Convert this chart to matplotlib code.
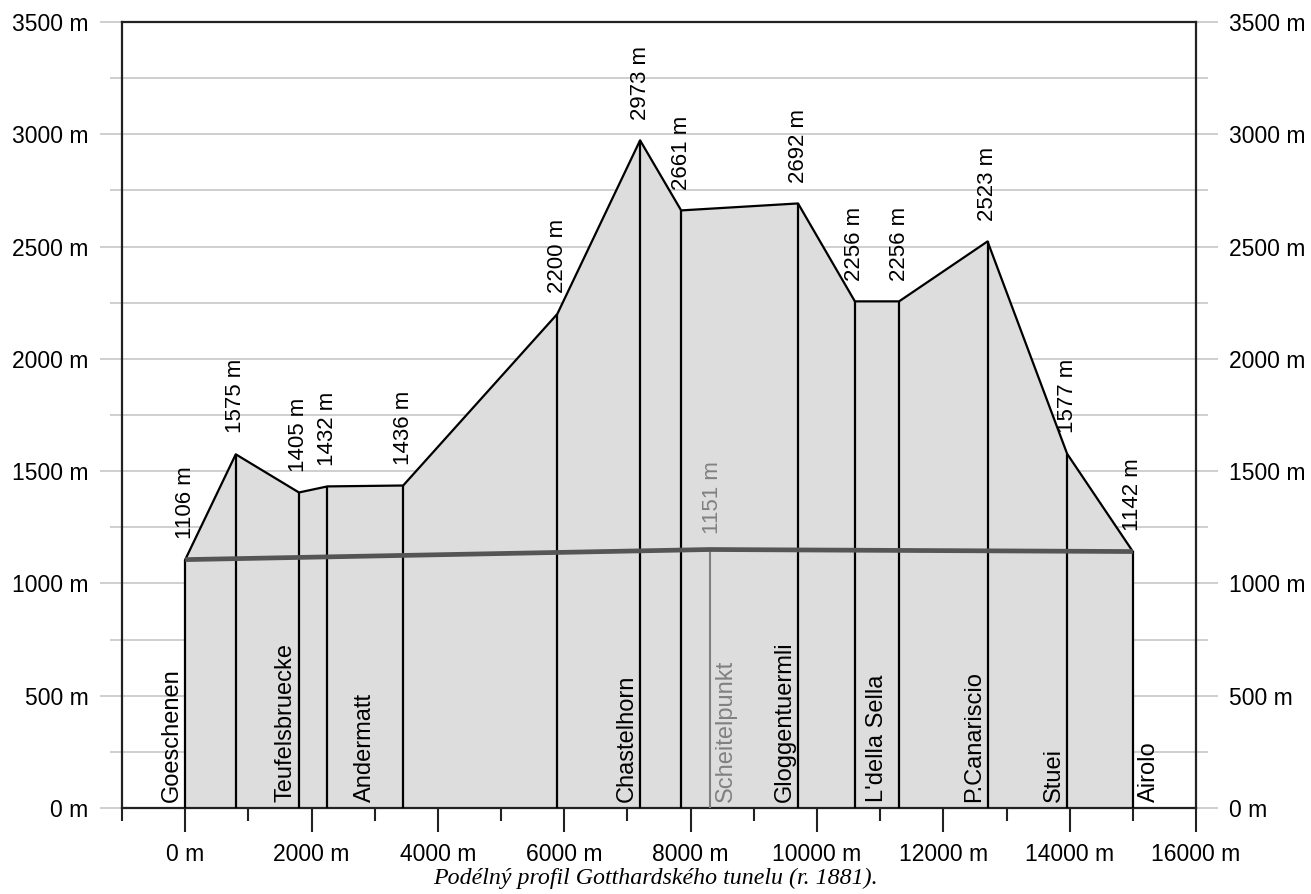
import numpy as np
import matplotlib.pyplot as plt
from matplotlib.ticker import MultipleLocator, FuncFormatter

plt.rcParams['font.family'] = ['Liberation Sans', 'DejaVu Sans']

# surface profile: distance from Goeschenen portal (m), elevation (m)
dist = [0, 800, 1800, 2250, 3450, 5890, 7200, 7850, 9700, 10600, 11300, 12700, 13960, 15000]
elev = [1106, 1575, 1405, 1432, 1436, 2200, 2973, 2661, 2692, 2256, 2256, 2523, 1577, 1142]

# tunnel axis
tunnel_x = [0, 8300, 15000]
tunnel_y = [1106, 1151, 1142]
apex_x = 8300
apex_y = 1151

# place names: (name, anchor distance, side of the vertical line)
names = ['Goeschenen', 'Teufelsbruecke', 'Andermatt', 'Chastelhorn', 'Scheitelpunkt',
         'Gloggentuermli', "L'della Sella", 'P.Canariscio', 'Stuei', 'Airolo']
name_x = [0, 1800, 2850, 7200, 8300, 9700, 10950, 12700, 13960, 15000]
name_side = ['left', 'left', 'mid', 'left', 'right', 'left', 'mid', 'left', 'left', 'right']

caption = 'Podélný profil Gotthardského tunelu (r. 1881).'

fig = plt.figure(figsize=(13.11, 8.94), dpi=100)
ax = fig.add_axes([0.0931, 0.0962, 0.8192, 0.8792])
ax.set_xlim(-1000, 16000)
ax.set_ylim(0, 3500)

# ground profile
ax.fill_between(dist, elev, 0, color='#dddddd', lw=0, zorder=2)
ax.plot(dist, elev, color='black', lw=1.6, zorder=4)
ax.vlines(dist, 0, elev, color='black', lw=1.6, zorder=3)

# tunnel
ax.vlines(apex_x, 0, apex_y, color='#808080', lw=1.5, zorder=3)
ax.plot(tunnel_x, tunnel_y, color='#555555', lw=3.4, zorder=5, solid_capstyle='butt')

fs = 16
fs_name = 17
for x, y in zip(dist, elev):
    ax.annotate(f'{y} m', (x, y), xytext=(0, 15), textcoords='offset points',
                rotation=90, ha='center', va='bottom', fontsize=fs, zorder=6)
ax.annotate(f'{apex_y} m', (apex_x, apex_y), xytext=(2, 11), textcoords='offset points',
            rotation=90, ha='center', va='bottom', fontsize=fs, color='#808080', zorder=6)

for name, x, side in zip(names, name_x, name_side):
    col = '#808080' if name == 'Scheitelpunkt' else 'black'
    if side == 'left':
        ax.annotate(name, (x, 0), xytext=(-1.5, 4.5), textcoords='offset points',
                    rotation=90, ha='right', va='bottom', fontsize=fs_name, color=col, zorder=6)
    elif side == 'right':
        ax.annotate(name, (x, 0), xytext=(3.5, 4.5), textcoords='offset points',
                    rotation=90, ha='left', va='bottom', fontsize=fs_name, color=col, zorder=6)
    else:
        ax.annotate(name, (x, 0), xytext=(0, 4.5), textcoords='offset points',
                    rotation=90, ha='center', va='bottom', fontsize=fs_name, color=col, zorder=6)

# axes styling
fmt = FuncFormatter(lambda v, p: f'{v:.0f} m')
ax.xaxis.set_major_locator(MultipleLocator(2000))
ax.xaxis.set_minor_locator(MultipleLocator(1000))
ax.yaxis.set_major_locator(MultipleLocator(500))
ax.yaxis.set_minor_locator(MultipleLocator(250))
ax.xaxis.set_major_formatter(fmt)
ax.yaxis.set_major_formatter(fmt)

ax.grid(True, axis='y', which='both', color='#cccccc', lw=1.3, zorder=0)
ax.set_axisbelow(True)

ax.tick_params(axis='x', which='major', length=17, width=1.5, color='#222222',
               labelsize=16.5, pad=8)
ax.tick_params(axis='x', which='minor', length=9.5, width=1.5, color='#222222')
ax.tick_params(axis='y', which='both', left=True, right=True, labelleft=True,
               labelright=True, color='#cccccc', width=1.3)
ax.tick_params(axis='y', which='major', length=16, labelsize=16.5, pad=8)
ax.tick_params(axis='y', which='minor', length=8.5)

for s in ax.spines.values():
    s.set_linewidth(1.6)
    s.set_color('#222222')

fig.text(0.4996, 0.018, caption, ha='center', va='center', fontsize=17.2,
         family=['Liberation Serif', 'DejaVu Serif'], style='italic')

fig.savefig('out.png', dpi=100)
